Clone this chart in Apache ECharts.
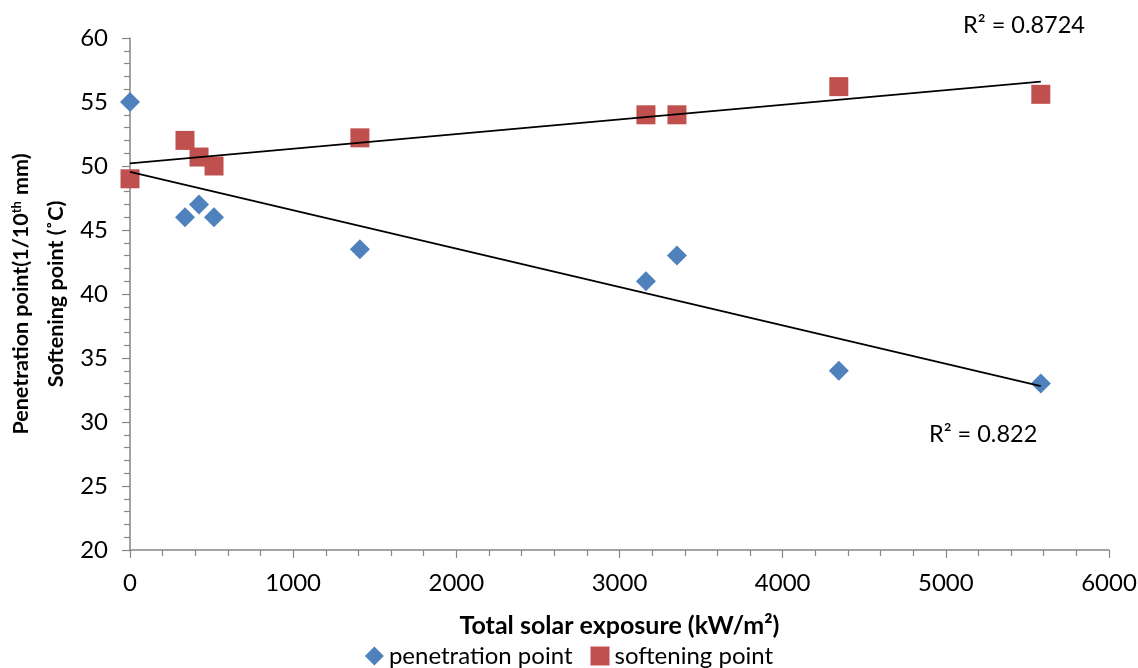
<!DOCTYPE html>
<html><head><meta charset="utf-8">
<script src="https://cdn.jsdelivr.net/npm/echarts@6/dist/echarts.min.js"></script>
<style>html,body{margin:0;padding:0;background:#fff}#c{width:1138px;height:668px}</style>
</head><body><div id="c"></div>
<script>
const exposure = [0, 337, 423, 515, 1409, 3162, 3352, 4344, 5582];
const penetration = [55, 46, 47, 46, 43.5, 41, 43, 34, 33];
const softening = [49, 52, 50.7, 50, 52.2, 54, 54, 56.2, 55.6];
const seriesNames = ['penetration point', 'softening point'];
const r2Labels = ['R² = 0.8724', 'R² = 0.822'];

function fit(xs, ys) {
  const n = xs.length;
  const mx = xs.reduce((a, b) => a + b, 0) / n;
  const my = ys.reduce((a, b) => a + b, 0) / n;
  let sxy = 0, sxx = 0;
  for (let i = 0; i < n; i++) { sxy += (xs[i] - mx) * (ys[i] - my); sxx += (xs[i] - mx) ** 2; }
  const m = sxy / sxx, b = my - m * mx;
  const x0 = Math.min(...xs), x1 = Math.max(...xs);
  return [[x0, b + m * x0], [x1, b + m * x1]];
}
const pair = ys => exposure.map((x, i) => [x, ys[i]]);

const FONT = 'Lato';
const chart = echarts.init(document.getElementById('c'));
chart.setOption({
  animation: false,
  textStyle: { fontFamily: FONT, color: '#000' },
  grid: { left: 130, right: 29, top: 38, bottom: 118, containLabel: false, outerBoundsMode: 'none' },
  xAxis: {
    type: 'value', min: 0, max: 6000, interval: 1000,
    name: 'Total solar exposure (kW/m²)', nameLocation: 'middle', nameGap: 63,
    nameTextStyle: { fontFamily: FONT, fontWeight: 'bold', fontSize: 25, color: '#000' },
    axisLine: { show: true, lineStyle: { color: '#868686', width: 1.5 } },
    axisTick: { show: true, inside: false, length: 8, lineStyle: { color: '#868686', width: 1.2 } },
    minorTick: { show: true, splitNumber: 5, length: 6, lineStyle: { color: '#868686', width: 1.2 } },
    axisLabel: { fontFamily: FONT, fontSize: 24, color: '#000', margin: 21, formatter: v => String(v) },
    splitLine: { show: false }
  },
  yAxis: {
    type: 'value', min: 20, max: 60, interval: 5,
    name: 'Penetration point(1/10{sup|th} mm)\nSoftening point (˚C)',
    nameLocation: 'middle', nameGap: 56, nameRotate: 90, nameMoveOverlap: false,
    nameTextStyle: {
      fontFamily: FONT, fontWeight: 'bold', fontSize: 21.5, color: '#000', lineHeight: 35,
      rich: { sup: { fontFamily: FONT, fontWeight: 'bold', fontSize: 13, color: '#000', verticalAlign: 'top', lineHeight: 13, padding: [6, 1, 0, 0] } }
    },
    axisLine: { show: true, lineStyle: { color: '#868686', width: 1.5 } },
    axisTick: { show: true, inside: false, length: 8, lineStyle: { color: '#868686', width: 1.2 } },
    minorTick: { show: true, splitNumber: 5, length: 6, lineStyle: { color: '#868686', width: 1.2 } },
    axisLabel: { fontFamily: FONT, fontSize: 24, color: '#000', margin: 22 },
    splitLine: { show: false }
  },
  legend: {
    bottom: -5, left: 'center', itemGap: 18, itemWidth: 19, itemHeight: 19,
    data: [{ name: seriesNames[0], icon: 'diamond' }, { name: seriesNames[1], icon: 'rect' }],
    textStyle: { fontFamily: FONT, fontSize: 24, color: '#000', padding: [0, 0, 0, 0] }
  },
  graphic: [
    { type: 'text', right: 53, top: 13, style: { text: r2Labels[0], font: '23.5px ' + FONT, fill: '#000' } },
    { type: 'text', left: 929, top: 422, style: { text: r2Labels[1], font: '23.5px ' + FONT, fill: '#000' } }
  ],
  series: [
    { name: 'trend-pen', type: 'line', data: fit(exposure, penetration), showSymbol: false, symbol: 'none',
      lineStyle: { color: '#000', width: 1.8 }, silent: true, z: 3 },
    { name: 'trend-soft', type: 'line', data: fit(exposure, softening), showSymbol: false, symbol: 'none',
      lineStyle: { color: '#000', width: 1.8 }, silent: true, z: 3 },
    { name: seriesNames[0], type: 'scatter', symbol: 'diamond', symbolSize: 20, data: pair(penetration),
      itemStyle: { color: '#4F81BD', opacity: 1 }, z: 2 },
    { name: seriesNames[1], type: 'scatter', symbol: 'rect', symbolSize: 19, data: pair(softening),
      itemStyle: { color: '#C0504D', opacity: 1 }, z: 2 }
  ]
});
</script>
</body></html>
